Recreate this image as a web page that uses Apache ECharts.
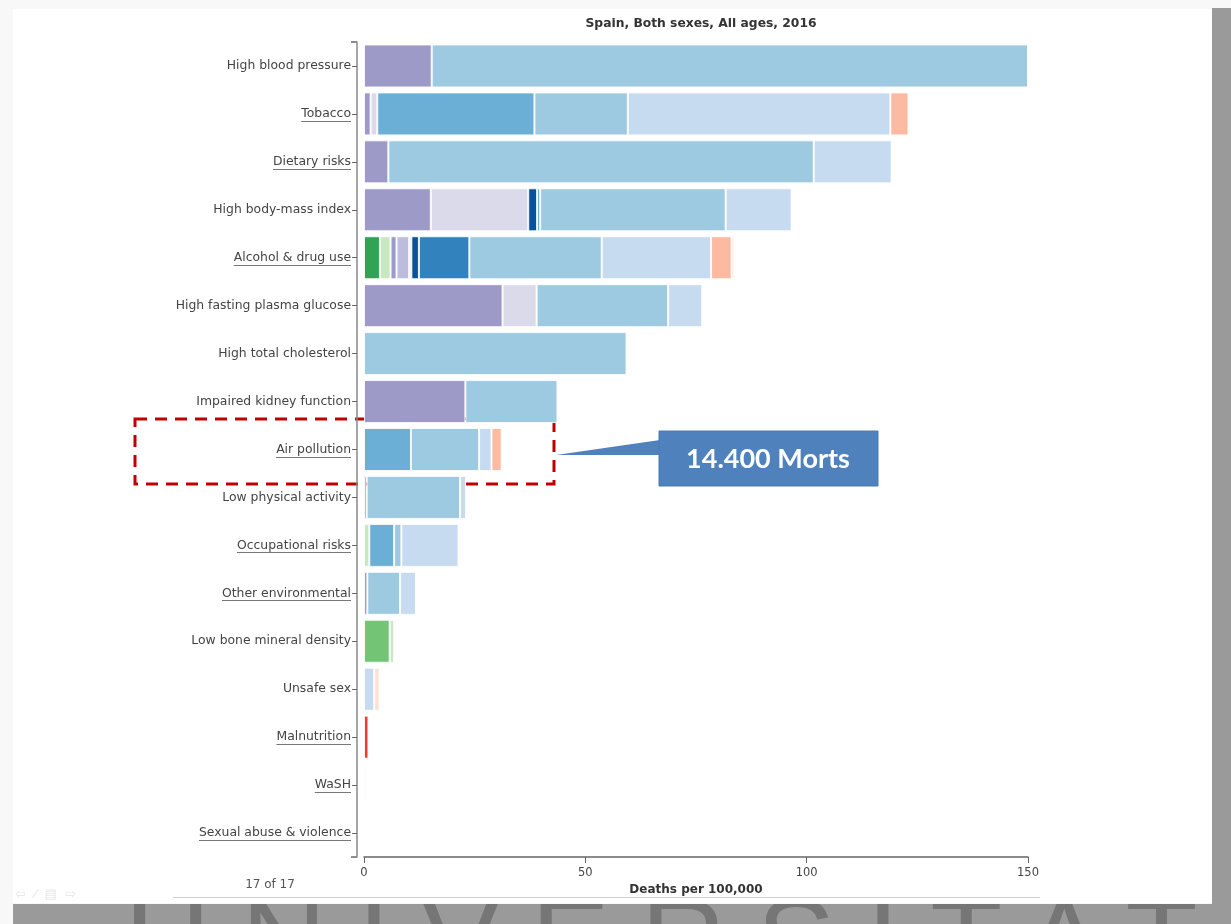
<!DOCTYPE html>
<html>
<head>
<meta charset="utf-8">
<script src="https://cdn.jsdelivr.net/npm/echarts@6/dist/echarts.min.js"></script>
<style>
  html, body { margin:0; padding:0; width:1231px; height:924px; overflow:hidden; background:#f8f8f8; }
  #slide { position:absolute; left:13px; top:9px; width:1199px; height:894px; background:#fff; }
  #rightShade { position:absolute; left:1212px; top:8px; width:19px; height:916px; background:#9a9a9a; }
  #bottomShade { position:absolute; left:13px; top:904px; width:1218px; height:20px; background:#9a9a9a; overflow:hidden; }
  #bottomShade span { position:absolute; left:112px; top:-22px; font-family:"Liberation Sans", sans-serif; font-size:118px; line-height:118px; color:#767676; letter-spacing:31px; white-space:nowrap; }
  #chart { position:absolute; left:0; top:0; width:1231px; height:924px; }
</style>
</head>
<body>
<div id="slide"></div>
<div id="rightShade"></div>
<div id="bottomShade"><span>UNIVERSITAT</span></div>
<div id="chart"></div>
<script>
// ---- data ----
const categories = [
  "High blood pressure", "Tobacco", "Dietary risks", "High body-mass index",
  "Alcohol & drug use", "High fasting plasma glucose", "High total cholesterol",
  "Impaired kidney function", "Air pollution", "Low physical activity",
  "Occupational risks", "Other environmental", "Low bone mineral density",
  "Unsafe sex", "Malnutrition", "WaSH", "Sexual abuse & violence"
];
const linkedCategories = ["Tobacco", "Dietary risks", "Alcohol & drug use", "Air pollution",
  "Occupational risks", "Other environmental", "Malnutrition", "WaSH", "Sexual abuse & violence"];
const xTicks = [0, 50, 100, 150];

const transportInjuries   = [null,null,null,null,3.6,null,null,null,null,null,null,null,null,null,null,null,null];
const unintentionalInj    = [null,null,null,null,null,null,null,null,null,null,null,null,5.8,null,null,null,null];
const otherInjuries       = [null,null,null,null,2.4,null,null,null,null,null,1.2,null,1.0,null,null,null,null];
const nutritionalDef      = [null,null,null,null,null,null,null,null,null,null,null,null,null,null,1.0,null,null];
const diabetesCkd         = [15.3,1.5,5.5,15.1,1.35,31.3,null,22.9,null,0.6,null,0.75,null,null,null,null,null];
const mentalDisorders     = [null,null,null,null,2.85,null,null,null,null,null,null,null,null,null,null,null,null];
const otherNcd            = [null,1.5,null,22.0,0.5,7.7,null,null,null,null,null,null,null,null,null,null,null];
const digestiveDis        = [null,null,null,2.0,1.7,null,null,null,null,null,null,null,null,null,null,null,null];
const cirrhosis           = [null,null,null,null,11.4,null,null,null,null,null,null,null,null,null,null,null,null];
const neoplasms           = [null,35.5,null,0.7,null,null,null,null,10.6,null,5.6,null,null,null,null,null,null];
const cardiovascular      = [134.7,21.1,96.1,41.9,29.9,29.7,59.3,20.8,15.4,21.1,1.65,7.4,null,null,null,null,null];
const chronicRespiratory  = [null,59.3,17.6,14.9,24.7,7.7,null,null,2.8,1.35,12.9,3.6,null,2.3,null,null,null];
const respInfections      = [null,4.1,null,null,4.65,null,null,null,2.3,null,null,null,null,null,null,null,null];
const otherCommunicable   = [null,null,null,null,0.6,null,null,null,null,null,null,null,null,1.2,null,0.45,null];

const seriesDefs = [
  ["Transport injuries", transportInjuries, "#31a354"],
  ["Unintentional injuries", unintentionalInj, "#74c476"],
  ["Other injuries", otherInjuries, "#c7e9c0"],
  ["Nutritional deficiencies", nutritionalDef, "#ef3b2c"],
  ["Diabetes & CKD", diabetesCkd, "#9e9ac8"],
  ["Mental disorders", mentalDisorders, "#bcbddc"],
  ["Other NCDs", otherNcd, "#dadaeb"],
  ["Digestive diseases", digestiveDis, "#08519c"],
  ["Cirrhosis", cirrhosis, "#3182bd"],
  ["Neoplasms", neoplasms, "#6baed6"],
  ["Cardiovascular diseases", cardiovascular, "#9ecae1"],
  ["Chronic respiratory diseases", chronicRespiratory, "#c6dbef"],
  ["Respiratory infections", respInfections, "#fcbba1"],
  ["Other communicable", otherCommunicable, "#fee0d2"]
];

const FONT = "DejaVu Sans";
const LABEL_SIZE = 12.4;
const chart = echarts.init(document.getElementById('chart'), null, {renderer:'canvas'});

const option = {
  animation: false,
  backgroundColor: 'transparent',
  title: {
    text: "Spain, Both sexes, All ages, 2016",
    left: 696, top: 13, textAlign: 'center',
    textStyle: { fontFamily: FONT, fontSize: 12.3, fontWeight: 'bold', color: '#333' }
  },
  grid: { left: 364, right: 203, top: 42, bottom: 67, containLabel: false },
  xAxis: {
    type: 'value', min: xTicks[0], max: xTicks[xTicks.length-1], interval: 50,
    name: "Deaths per 100,000", nameLocation: 'middle', nameGap: 26,
    nameTextStyle: { fontFamily: FONT, fontSize: 12, fontWeight: 'bold', color: '#333' },
    axisLine: { show: true, onZero: false, lineStyle: { color: '#666', width: 1.5 } },
    axisTick: { show: true, length: 6, lineStyle: { color: '#666' } },
    axisLabel: { fontFamily: FONT, fontSize: 11.5, color: '#444', margin: 10 },
    splitLine: { show: false }
  },
  yAxis: {
    type: 'category', data: categories, inverse: true, offset: 7,
    axisLine: { show: true, onZero: false, lineStyle: { color: '#888', width: 1.5 } },
    axisTick: { show: true, alignWithLabel: true, length: 5, lineStyle: { color: '#666' } },
    axisLabel: { fontFamily: FONT, fontSize: LABEL_SIZE, color: '#444', margin: 6 }
  },
  series: seriesDefs.map(([name, data, color]) => ({
    name, type: 'bar', stack: 'total', data, barWidth: 43,
    itemStyle: { color, borderColor: 'rgba(255,255,255,0.85)', borderWidth: 1 },
    emphasis: { disabled: true }
  }))
};
chart.setOption(option);

// Decorations computed from axis positions
const ctx = document.createElement('canvas').getContext('2d');
ctx.font = LABEL_SIZE + 'px "' + FONT + '"';
const axisX = 364 - 7;
const labelRight = axisX - 6;
const graphics = [];
linkedCategories.forEach(c => {
  const y = chart.convertToPixel({yAxisIndex: 0}, c);
  const w = ctx.measureText(c).width;
  graphics.push({ type: 'line', silent: true,
    shape: { x1: labelRight - w, y1: Math.round(y + 7) + 0.5, x2: labelRight, y2: Math.round(y + 7) + 0.5 },
    style: { stroke: '#777', lineWidth: 1 } });
});
const yTop = chart.convertToPixel({yAxisIndex:0}, categories[0]) - 24;
const yBot = chart.convertToPixel({yAxisIndex:0}, categories[categories.length-1]) + 24;
graphics.push({ type:'line', silent:true, shape:{x1:axisX-6, y1:yTop, x2:axisX, y2:yTop}, style:{stroke:'#666', lineWidth:1.5} });
graphics.push({ type:'line', silent:true, shape:{x1:axisX-6, y1:yBot, x2:axisX, y2:yBot}, style:{stroke:'#666', lineWidth:1.5} });

// annotation: dashed box around Air pollution and callout
graphics.push({ type:'rect', silent:true, shape:{x:135, y:419, width:419, height:65},
  style:{ fill:'none', stroke:'#c00000', lineWidth:3, lineDash:[12,8] } });
graphics.push({ type:'polygon', silent:true, shape:{ points:[[660,440],[660,455],[556,455]] },
  style:{ fill:'#4f81bd' } });
graphics.push({ type:'rect', silent:true, shape:{x:659, y:431, width:219, height:55},
  style:{ fill:'#4f81bd', stroke:'#4a7ab3', lineWidth:1 } });
graphics.push({ type:'text', silent:true, x:768, y:459,
  style:{ text:'14.400 Morts', fill:'#fff', font:'bold 27px Lato', align:'center', verticalAlign:'middle' } });

// footer
graphics.push({ type:'text', silent:true, x:270, y:885,
  style:{ text:'17 of 17', fill:'#555', font:'12px "DejaVu Sans"', align:'center', verticalAlign:'middle' } });
graphics.push({ type:'line', silent:true, shape:{x1:173, y1:897.5, x2:1040, y2:897.5}, style:{stroke:'#d0d0d0', lineWidth:1} });
graphics.push({ type:'text', silent:true, x:15, y:895,
  style:{ text:'⇦  ⁄  ▤  ⇨', fill:'#e6e6e6', font:'13px "DejaVu Sans"', verticalAlign:'middle' } });

chart.setOption({ graphic: graphics });
</script>
</body>
</html>
